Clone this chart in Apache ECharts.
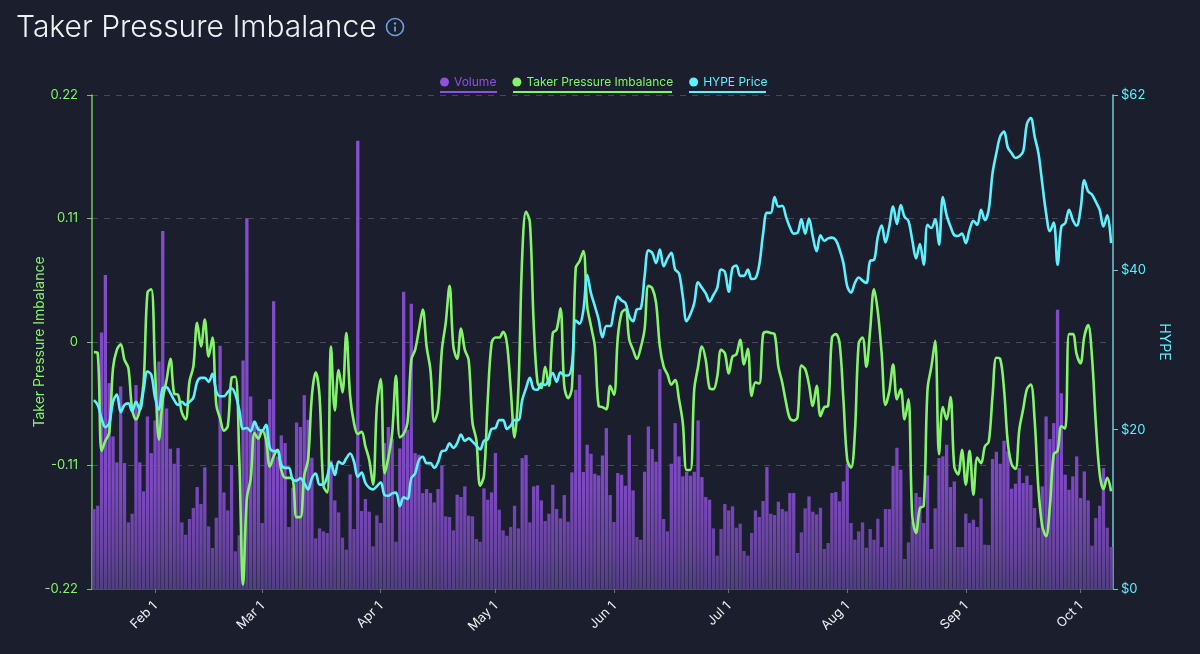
<!DOCTYPE html>
<html><head><meta charset="utf-8">
<script src="https://cdn.jsdelivr.net/npm/echarts@6/dist/echarts.min.js"></script>
<style>html,body{margin:0;padding:0;background:#1a1e2d}#c{width:1200px;height:654px}</style>
</head><body><div id="c"></div>
<script>
const firstDay = '2025-01-16';
const dayCount = 267;
const tickLabels = ['Feb 1','Mar 1','Apr 1','May 1','Jun 1','Jul 1','Aug 1','Sep 1','Oct 1'];
const priceTicks = [0,20,40,62];
const volume = [240,250,770,943,618,458,380,608,378,200,
226,612,380,293,518,408,506,683,1075,542,
421,376,423,200,163,210,243,306,255,365,
188,123,214,730,290,236,372,113,161,686,
1113,578,505,488,198,478,570,864,398,461,
438,186,304,500,486,582,508,394,152,182,
173,168,386,266,230,154,118,344,180,1346,
234,270,232,128,221,198,438,486,450,142,
422,892,478,856,408,403,288,300,288,260,
300,370,218,216,176,283,276,308,220,218,
150,142,302,268,290,408,238,176,160,186,
250,182,393,402,200,308,311,266,204,226,
313,240,212,282,202,350,598,643,351,433,
406,346,341,401,483,282,201,348,343,310,
462,296,156,148,352,488,420,382,660,210,
173,376,498,398,338,352,340,352,506,336,
276,268,182,100,180,255,236,248,184,196,
114,100,168,236,216,264,366,226,222,262,
240,233,288,288,108,170,242,278,232,224,
244,120,138,288,291,263,323,376,198,148,
173,200,124,180,148,211,126,240,240,370,
424,358,90,140,202,288,276,198,341,120,
242,393,398,433,306,323,126,126,226,198,
208,186,272,133,132,390,412,376,445,413,
301,316,363,318,340,312,243,184,308,518,
450,498,838,588,343,298,338,398,273,353,
266,130,213,250,363,184,126];
const imbalance = [-0.009,-0.010,-0.097,-0.088,-0.081,-0.023,-0.007,-0.002,-0.016,-0.023,
-0.060,-0.069,-0.060,-0.036,0.044,0.047,-0.025,-0.087,-0.051,-0.034,
-0.015,-0.046,-0.047,-0.063,-0.069,-0.035,-0.022,0.017,-0.004,0.020,
-0.013,0.004,-0.056,-0.068,-0.079,-0.075,-0.032,-0.031,-0.102,-0.216,
-0.139,-0.122,-0.081,-0.086,-0.079,-0.087,-0.111,-0.102,-0.096,-0.114,
-0.121,-0.121,-0.122,-0.156,-0.156,-0.119,-0.105,-0.048,-0.027,-0.048,
-0.128,-0.134,-0.004,-0.061,-0.025,-0.045,0.008,-0.048,-0.072,-0.082,
-0.080,-0.093,-0.105,-0.127,-0.057,-0.033,-0.117,-0.103,-0.081,-0.030,
-0.085,-0.082,-0.072,-0.016,-0.007,0.011,0.029,-0.004,-0.025,-0.071,
-0.060,-0.007,0.017,0.050,-0.004,-0.015,0.012,-0.007,-0.016,-0.072,
-0.087,-0.128,-0.119,-0.051,-0.001,0.004,0.004,0.009,-0.001,-0.042,
-0.085,-0.042,0.076,0.116,0.107,0.017,-0.036,-0.041,-0.022,-0.039,
0.008,0.011,0.030,-0.039,-0.050,-0.041,0.066,0.072,0.081,0.032,
0.014,-0.004,-0.057,-0.058,-0.060,-0.039,-0.047,0.004,0.026,0.029,
0.002,-0.007,-0.015,-0.005,0.011,0.050,0.048,0.035,-0.004,-0.022,
-0.029,-0.038,-0.034,-0.051,-0.072,-0.114,-0.114,-0.042,-0.022,-0.004,
-0.016,-0.041,-0.042,-0.031,-0.007,-0.010,-0.028,-0.013,-0.011,0.002,
-0.020,-0.006,-0.048,-0.036,-0.037,0.007,0.009,0.008,0.007,-0.022,
-0.036,-0.054,-0.068,-0.070,-0.067,-0.021,-0.024,-0.038,-0.057,-0.039,
-0.066,-0.058,-0.057,0.004,0.007,-0.001,-0.051,-0.105,-0.112,-0.081,
-0.001,0.004,-0.022,0.011,0.047,0.027,-0.010,-0.056,-0.044,-0.020,
-0.051,-0.042,-0.069,-0.051,-0.155,-0.170,-0.148,-0.146,-0.042,-0.022,
0.001,-0.100,-0.058,-0.069,-0.049,-0.111,-0.118,-0.096,-0.127,-0.097,
-0.136,-0.103,-0.108,-0.093,-0.089,-0.048,-0.014,-0.015,-0.042,-0.090,
-0.109,-0.113,-0.078,-0.060,-0.042,-0.038,-0.069,-0.131,-0.164,-0.173,
-0.146,-0.100,-0.097,-0.075,-0.077,0.007,0.007,-0.011,-0.019,0.005,
0.015,-0.013,-0.072,-0.117,-0.131,-0.121,-0.133];
const price = [23.7,23.1,21.4,20.3,20.8,23.5,24.4,22.2,23.1,23.3,
22.3,23.5,22.5,25.0,27.3,26.9,24.0,22.5,25.2,25.3,
24.6,23.7,23.1,23.5,23.1,23.5,24.0,26.0,26.5,26.5,
26.0,27.0,24.8,24.2,24.2,24.7,25.2,24.4,22.5,20.1,
20.2,19.8,21.0,20.0,19.9,20.6,17.7,17.3,17.4,15.6,
15.2,15.2,13.7,13.6,13.9,13.3,12.5,13.9,14.5,13.1,
13.1,14.1,15.8,14.3,16.0,15.7,16.4,17.0,16.0,14.1,
14.6,13.3,12.7,12.5,12.9,13.4,11.8,11.7,12.0,12.1,
10.4,11.5,11.3,13.9,14.5,16.2,16.6,15.8,15.8,15.2,
15.9,17.3,17.4,18.3,17.7,18.3,19.4,18.6,18.9,18.5,
18.0,17.5,18.6,18.8,20.1,20.2,21.2,21.2,20.1,20.5,
21.2,21.2,23.7,25.2,26.5,25.1,25.0,25.8,25.6,26.3,
27.1,26.0,27.2,26.8,26.8,28.1,33.7,33.3,35.0,39.4,
37.1,35.5,33.8,31.6,33.0,33.0,35.0,36.7,36.2,35.9,
34.2,33.6,35.1,35.2,39.2,42.5,42.2,40.9,42.6,40.5,
41.5,42.2,40.1,39.6,36.7,33.6,34.5,35.9,38.5,37.8,
37.1,36.1,36.9,37.8,40.1,39.8,37.3,40.3,40.6,39.3,
39.3,40.1,38.9,39.0,40.7,44.6,47.2,47.2,49.2,48.0,
48.1,46.7,45.4,44.6,44.7,46.4,44.6,46.5,44.2,42.4,
44.4,43.7,44.0,44.1,43.8,42.6,40.9,38.0,37.2,38.4,
39.1,38.7,38.4,41.2,41.3,44.2,45.6,43.5,45.5,48.0,
45.8,48.2,46.7,46.2,43.8,41.5,43.3,40.7,45.7,45.3,
46.4,43.2,49.2,46.9,45.5,44.4,44.3,44.6,43.4,45.1,
46.2,45.7,47.6,46.3,47.6,52.2,54.7,56.8,57.4,55.4,
54.7,54.1,54.3,54.9,58.4,59.1,56.8,54.7,50.9,47.2,
44.9,46.0,40.7,45.5,45.9,47.6,46.3,45.6,47.6,51.3,
49.9,49.5,48.6,47.6,45.5,46.9,43.4];

const MONTHS = ['Jan','Feb','Mar','Apr','May','Jun','Jul','Aug','Sep','Oct','Nov','Dec'];
const categories = [];
const d0 = new Date(firstDay + 'T00:00:00Z');
for (let i = 0; i < dayCount; i++) {
  const d = new Date(d0.getTime() + i * 86400000);
  categories.push(MONTHS[d.getUTCMonth()] + ' ' + d.getUTCDate());
}
const isTick = (i, v) => tickLabels.includes(v);

const GREEN = '#84f56a', CYAN = '#5ef1ff', PURPLE = '#8f52e0', FONT = 'Inter, "Noto Sans", sans-serif';
const chart = echarts.init(document.getElementById('c'), null, {renderer:'canvas'});
chart.setOption({
  backgroundColor: '#1a1e2d',
  animation: false,
  title: { text:'Taker Pressure Imbalance', left:11, top:8,
    textStyle:{color:'#eef1f6', fontSize:30, fontWeight:300, fontFamily:FONT} },
  legend: {
    left:435, top:71, itemWidth:9, itemHeight:9, itemGap:16, icon:'circle', selectedMode:false,
    textStyle:{fontSize:12, fontFamily:FONT, padding:[0,0,0,0]},
    data:[
      {name:'Volume', itemStyle:{color:PURPLE}, textStyle:{color:PURPLE}},
      {name:'Taker Pressure Imbalance', itemStyle:{color:GREEN}, textStyle:{color:GREEN}},
      {name:'HYPE Price', itemStyle:{color:CYAN}, textStyle:{color:CYAN}}
    ]
  },
  graphic: [
    {type:'line', shape:{x1:440,y1:92,x2:497,y2:92}, style:{stroke:PURPLE,lineWidth:2}},
    {type:'line', shape:{x1:513,y1:92,x2:672,y2:92}, style:{stroke:GREEN,lineWidth:2}},
    {type:'line', shape:{x1:689,y1:92,x2:766,y2:92}, style:{stroke:CYAN,lineWidth:2}},
    {type:'circle', shape:{cx:395,cy:27,r:8.5}, style:{fill:'none',stroke:'#6d9fe0',lineWidth:1.6}},
    {type:'circle', shape:{cx:395,cy:23.5,r:1.2}, style:{fill:'#6d9fe0'}},
    {type:'line', shape:{x1:395,y1:26.5,x2:395,y2:31.5}, style:{stroke:'#6d9fe0',lineWidth:1.8}}
  ],
  grid: {left:92, right:87, top:95, bottom:65},
  xAxis: {
    type:'category', data:categories, boundaryGap:true,
    axisLine:{onZero:false, lineStyle:{color:'#4a4f5c'}},
    axisTick:{show:true, alignWithLabel:true, length:4, interval:isTick, lineStyle:{color:'#6a6f7c'}},
    axisLabel:{interval:isTick, rotate:45, color:'#eef0f4', fontSize:13, fontFamily:FONT, margin:15},
    splitLine:{show:false}
  },
  yAxis: [
    {type:'value', min:-0.22, max:0.22, interval:0.11, position:'left',
     name:'Taker Pressure Imbalance', nameLocation:'middle', nameGap:45, nameRotate:90, nameMoveOverlap:false,
     nameTextStyle:{color:GREEN,fontSize:14,fontFamily:FONT},
     axisLine:{show:true,lineStyle:{color:GREEN,opacity:.8,width:1.5}},
     axisTick:{show:true,length:5,lineStyle:{color:GREEN,opacity:.8}},
     axisLabel:{color:GREEN,fontSize:13,fontFamily:FONT,margin:14,formatter:v=>String(+v.toFixed(2))},
     splitLine:{show:true,lineStyle:{color:'#454a58',type:[6,6],width:1}}},
    {type:'value', min:0, max:62, position:'right',
     name:'HYPE', nameLocation:'middle', nameGap:44, nameRotate:-90, nameMoveOverlap:false,
     nameTextStyle:{color:CYAN,fontSize:14,fontFamily:FONT},
     axisLine:{show:true,lineStyle:{color:'#6fc9d2',width:1.5}},
     axisTick:{show:true,length:5,customValues:priceTicks,lineStyle:{color:'#6fc9d2'}},
     axisLabel:{color:CYAN,fontSize:13,fontFamily:FONT,margin:8,customValues:priceTicks,formatter:v=>'$'+v},
     splitLine:{show:false}},
    {type:'value', min:0, max:1483, show:false, splitLine:{show:false}}
  ],
  series: [
    {name:'Volume', type:'bar', yAxisIndex:2, data:volume, barWidth:'86%', z:1,
     itemStyle:{color:new echarts.graphic.LinearGradient(0,95,0,589,[
       {offset:0,color:'#8a50d4'},{offset:.8,color:'#7b48bf'},{offset:.92,color:'#6843a0'},{offset:1,color:'#513f82'}],true)}},
    {name:'Taker Pressure Imbalance', type:'line', yAxisIndex:0, data:imbalance, smooth:.35,
     showSymbol:false, z:3, lineStyle:{color:GREEN,width:2.6}, itemStyle:{color:GREEN}},
    {name:'HYPE Price', type:'line', yAxisIndex:1, data:price, smooth:.35,
     showSymbol:false, z:4, lineStyle:{color:CYAN,width:2.6}, itemStyle:{color:CYAN}}
  ]
});
</script></body></html>
